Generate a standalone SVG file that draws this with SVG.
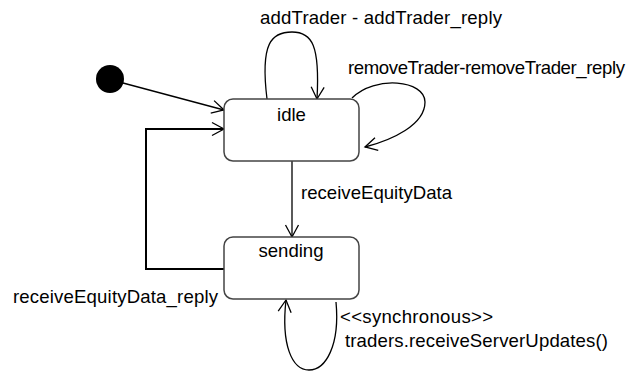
<svg xmlns="http://www.w3.org/2000/svg" width="629" height="371" viewBox="0 0 629 371">
  <style>
    text { font-family: "Liberation Sans", Arial, sans-serif; font-size: 18.6px; fill: #000; }
    .state { fill: #fff; stroke: #444; stroke-width: 1.5; }
    .edge { fill: none; stroke: #000; stroke-width: 1.3; marker-end: url(#open); }
    .thick { stroke-width: 2; }
  </style>
  <defs>
    <marker id="open" viewBox="-14 -8 16 16" refX="0" refY="0" markerWidth="16" markerHeight="16" markerUnits="userSpaceOnUse" orient="auto">
      <path d="M-12,-6.5 L0,0 L-12,6.5" fill="none" stroke="#000" stroke-width="1.3"/>
    </marker>
  </defs>
  <rect width="629" height="371" fill="#fff"/>

  <!-- transitions -->
  <g id="connectors">
    <path class="edge" d="M123,83 L224,110"/>
    <path class="edge" d="M267,99 C260,42 272,32 292,32 C312,32 320,45 317,99"/>
    <path class="edge" d="M352,98 C375,75 425,80 425,102 C425,125 392,140 365,147"/>
    <path class="edge" d="M292,161 V237"/>
    <path class="edge thick" d="M224,269 H146 V129 H224"/>
    <path class="edge" d="M336,302 C340,345 326,370 309,370 C292,370 281,345 286,300"/>
  </g>

  <g id="initial">
    <circle cx="110" cy="79" r="14" fill="#000"/>
  </g>

  <g id="idle">
    <rect class="state" x="224" y="99" width="135" height="62" rx="9"/>
    <text x="291.5" y="121" text-anchor="middle">idle</text>
  </g>

  <g id="sending">
    <rect class="state" x="224" y="237" width="135" height="62" rx="9"/>
    <text x="291" y="257" text-anchor="middle">sending</text>
  </g>

  <g id="labels">
    <text x="260" y="24" textLength="242">addTrader - addTrader_reply</text>
    <text x="348" y="74" textLength="277">removeTrader-removeTrader_reply</text>
    <text x="301" y="199" textLength="151">receiveEquityData</text>
    <text x="13" y="303" textLength="205">receiveEquityData_reply</text>
    <text x="340" y="323" textLength="153">&lt;&lt;synchronous&gt;&gt;</text>
    <text x="345" y="347" textLength="263">traders.receiveServerUpdates()</text>
  </g>
</svg>
